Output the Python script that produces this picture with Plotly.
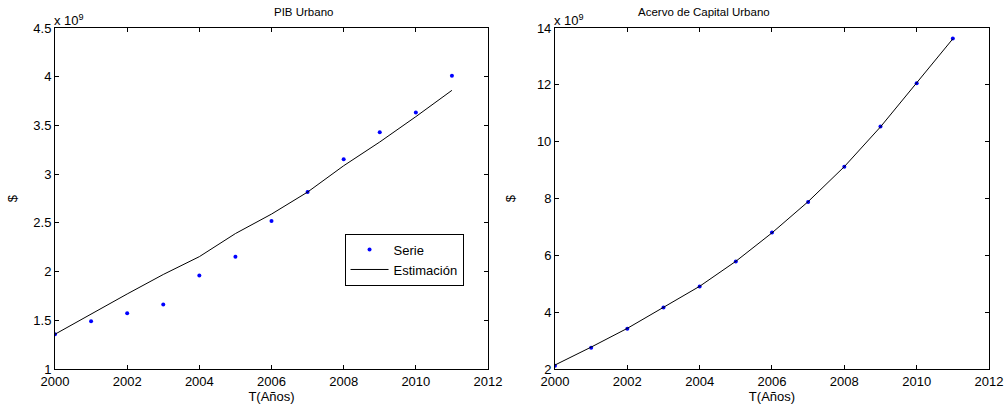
import plotly.graph_objects as go

years = list(range(2000, 2012))
pib_serie = [1.357, 1.49, 1.571, 1.663, 1.96, 2.153, 2.52, 2.816, 3.153, 3.43, 3.633, 4.01]
pib_est = [1.357, 1.565, 1.77, 1.97, 2.153, 2.39, 2.59, 2.816, 3.086, 3.33, 3.59, 3.86]
cap_serie = [2.117, 2.75, 3.42, 4.16, 4.90, 5.785, 6.8, 7.88, 9.115, 10.53, 12.06, 13.63]
cap_est = [2.14, 2.77, 3.43, 4.16, 4.91, 5.79, 6.79, 7.89, 9.12, 10.52, 12.05, 13.62]

titles = ["PIB Urbano", "Acervo de Capital Urbano"]
xlabel = "T(Años)"
ylabel = "$"
scale_text = "x 10<sup>9</sup>"

FONT = "Liberation Sans, Arial, sans-serif"

fig = go.Figure()
fig.add_trace(go.Scatter(x=years, y=pib_serie, mode="markers", name="Serie",
                         marker=dict(color="#0000ff", size=4), xaxis="x", yaxis="y"))
fig.add_trace(go.Scatter(x=years, y=pib_est, mode="lines", name="Estimación",
                         line=dict(color="black", width=1), xaxis="x", yaxis="y"))
fig.add_trace(go.Scatter(x=years, y=cap_serie, mode="markers", name="Serie",
                         marker=dict(color="#0000ff", size=4), xaxis="x2", yaxis="y2",
                         showlegend=False))
fig.add_trace(go.Scatter(x=years, y=cap_est, mode="lines", name="Estimación",
                         line=dict(color="black", width=1), xaxis="x2", yaxis="y2",
                         showlegend=False))

axis_common = dict(showline=True, linecolor="black", linewidth=1, mirror="ticks",
                   ticks="inside", ticklen=4, tickcolor="black", tickwidth=1,
                   showgrid=False, zeroline=False, automargin=False,
                   tickfont=dict(family=FONT, size=13, color="black"))

d1 = [0.0, 0.4636]
d2 = [0.5353, 1.0]

fig.update_layout(
    width=1005, height=406,
    margin=dict(l=55, r=16, t=28, b=37, autoexpand=False),
    paper_bgcolor="white", plot_bgcolor="white",
    font=dict(family=FONT, size=13, color="black"),
    xaxis=dict(domain=d1, range=[2000, 2012], dtick=2, anchor="y",
               title=dict(text=xlabel, standoff=2, font=dict(size=13)), **axis_common),
    yaxis=dict(range=[1, 4.5], dtick=0.5, anchor="x",
               title=dict(text=ylabel, standoff=12, font=dict(size=13)), **axis_common),
    xaxis2=dict(domain=d2, range=[2000, 2012], dtick=2, anchor="y2",
                title=dict(text=xlabel, standoff=2, font=dict(size=13)), **axis_common),
    yaxis2=dict(range=[2, 14], dtick=2, anchor="x2",
                title=dict(text=ylabel, standoff=18, font=dict(size=13)), **axis_common),
    legend=dict(x=0.310, y=0.397, xanchor="left", yanchor="top",
                bordercolor="black", borderwidth=1, bgcolor="white",
                font=dict(family=FONT, size=13, color="black"),
                tracegroupgap=0, itemwidth=38),
    showlegend=True,
)

for dom, t in zip([d1, d2], titles):
    fig.add_annotation(x=(dom[0] + dom[1]) / 2, y=1, xref="paper", yref="paper",
                       text=t, showarrow=False, yanchor="bottom", yshift=8,
                       font=dict(family=FONT, size=11.5, color="black"))
    fig.add_annotation(x=dom[0], y=1, xref="paper", yref="paper",
                       text=scale_text, showarrow=False, xanchor="left", yanchor="bottom",
                       yshift=-2, xshift=-3,
                       font=dict(family=FONT, size=13, color="black"))

fig.write_html("out.html", config={"displayModeBar": False},
               post_script="document.body.style.margin='0';document.body.style.overflow='hidden';")
